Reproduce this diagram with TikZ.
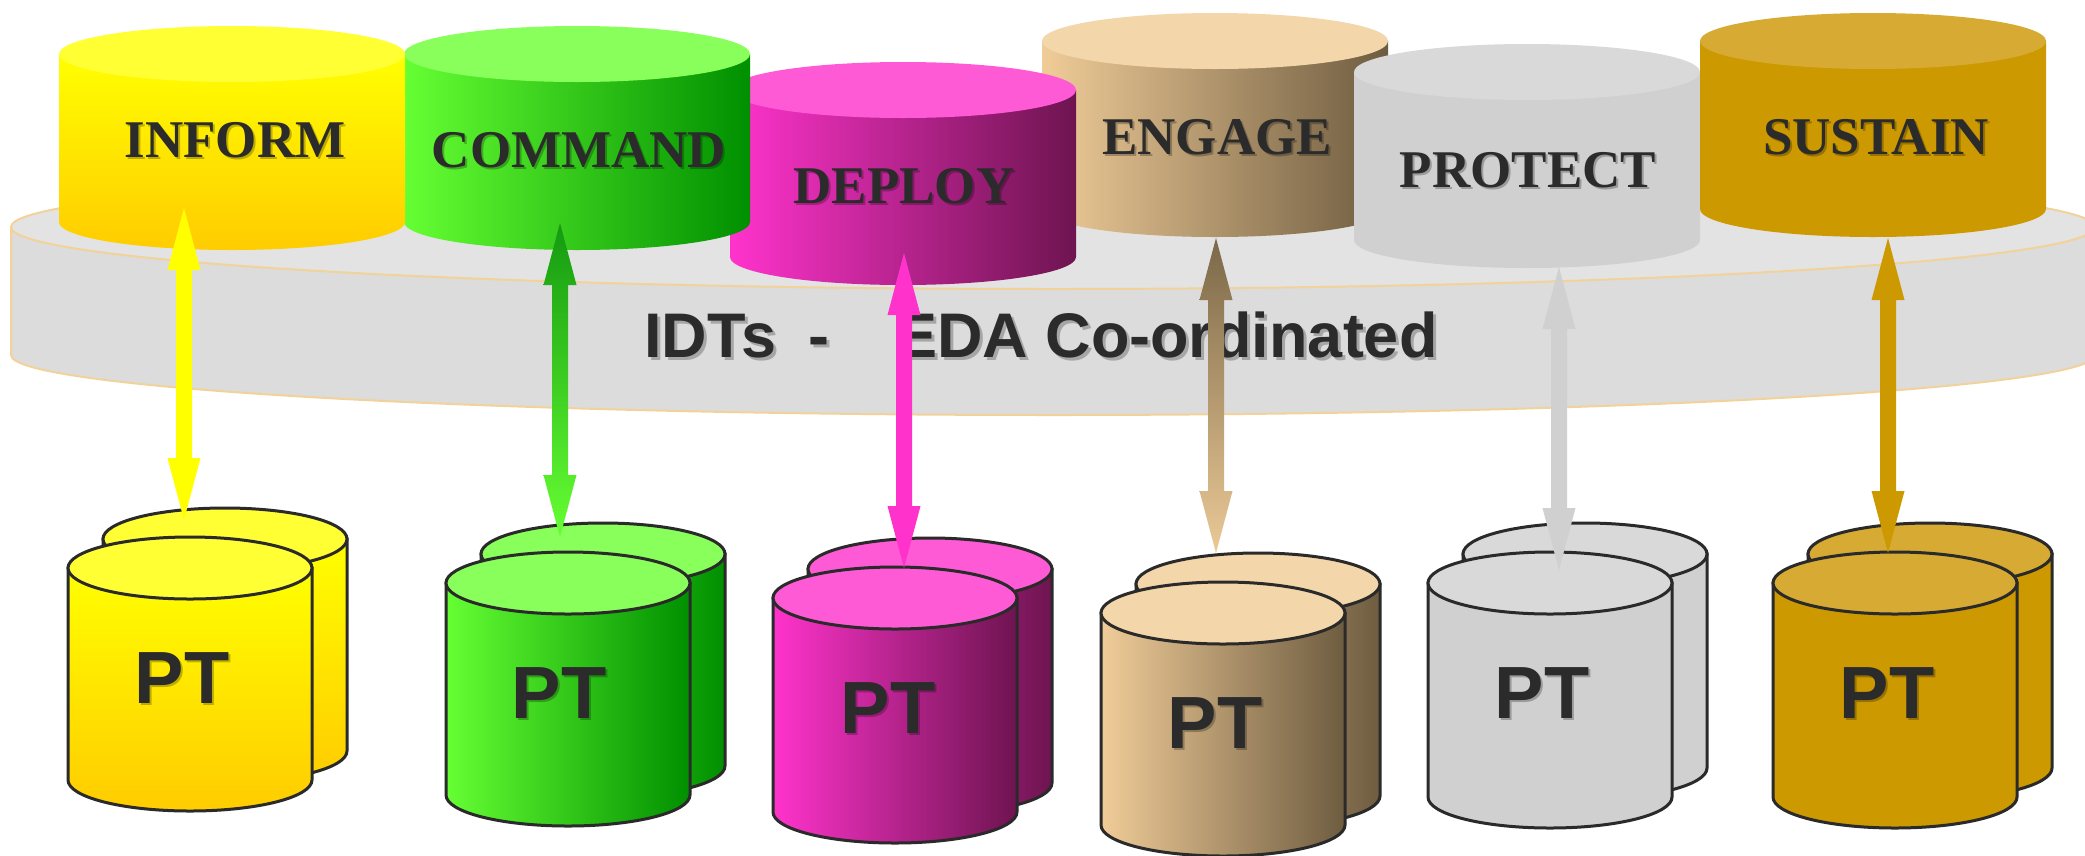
\documentclass[tikz,border=0pt]{standalone}
\usepackage{fontspec}
\setmainfont{Liberation Serif}
\newfontfamily\arialf{Liberation Sans}
\usetikzlibrary{calc}
\definecolor{txt}{HTML}{2B2B2B}
\definecolor{outl}{HTML}{2A2A2A}
\definecolor{platside}{HTML}{DCDCDC}
\definecolor{plattop}{HTML}{E3E3E3}
\definecolor{platline}{HTML}{F2D29B}
\definecolor{yelA}{HTML}{FFFF00}
\definecolor{yelB}{HTML}{FFCC00}
\definecolor{yelT}{HTML}{FFFF33}
\definecolor{grnA}{HTML}{66FF33}
\definecolor{grnB}{HTML}{008F00}
\definecolor{grnT}{HTML}{88FF5A}
\definecolor{grnD}{HTML}{149A10}
\definecolor{magA}{HTML}{FF33CC}
\definecolor{magB}{HTML}{6E1450}
\definecolor{magT}{HTML}{FF5AD6}
\definecolor{tanA}{HTML}{F0CC98}
\definecolor{tanB}{HTML}{6E5C40}
\definecolor{tanT}{HTML}{F3D7AA}
\definecolor{tanD}{HTML}{7B6848}
\definecolor{tanL}{HTML}{EBC996}
\definecolor{gryA}{HTML}{D0D0D0}
\definecolor{gryT}{HTML}{D9D9D9}
\definecolor{gldA}{HTML}{CC9900}
\definecolor{gldT}{HTML}{D6AA33}
\newcommand\topcyl[5]{%
  \path[#4] ({#1-173},#2) -- ({#1-173},#3) arc[start angle=180,end angle=360,x radius=173pt,y radius=28pt] -- ({#1+173},#2) -- cycle;
  \fill[#5] (#1,#2) ellipse[x radius=173pt,y radius=28pt];
}
\newcommand\ptone[5]{%
  \path[#4,draw=outl,line width=3pt] ({#1-122},#2) -- ({#1-122},#3) arc[start angle=180,end angle=360,x radius=122pt,y radius=31pt] -- ({#1+122},#2) -- cycle;
  \path[fill=#5,draw=outl,line width=3pt] (#1,#2) ellipse[x radius=122pt,y radius=31pt];
}
\newcommand\ptpair[5]{\ptone{#1+35}{#2-29}{#3-29}{#4}{#5}\ptone{#1}{#2}{#3}{#4}{#5}}
\newcommand\dblarrow[3]{%
  \path[#3] (#1) -- ($(#1)+(16.5,62)$) -- ($(#1)+(8,62)$) -- ($(#2)+(8,-62)$) -- ($(#2)+(16.5,-62)$) -- (#2)
    -- ($(#2)+(-16.5,-62)$) -- ($(#2)+(-8,-62)$) -- ($(#1)+(-8,62)$) -- ($(#1)+(-16.5,62)$) -- cycle;
}
\tikzset{
  toplabel/.style={font=\bfseries\fontsize{53}{53}\selectfont,text=txt,anchor=base,inner sep=0pt},
  topshadow/.style={toplabel,text=black,text opacity=0.25},
  ptlabel/.style={font=\arialf\bfseries\fontsize{74}{74}\selectfont,text=txt,anchor=base,inner sep=0pt},
  ptshadow/.style={ptlabel,text=black,text opacity=0.25},
  bigl/.style={font=\arialf\bfseries\fontsize{63}{63}\selectfont,text=txt,anchor=base west,inner sep=0pt},
  bigshadow/.style={bigl,text=black!35}
}
\begin{document}
\begin{tikzpicture}[x=1pt,y=-1pt]
\useasboundingbox (0,0) rectangle (2085,855);
\fill[white] (0,0) rectangle (2085,855);
% platform
\path[fill=platside,draw=platline,line width=2pt] (11,227) -- (11,355) arc[start angle=180,end angle=360,x radius=1042pt,y radius=60pt] -- (2095,227) -- cycle;
\path[fill=plattop,draw=platline,line width=2pt] (1053,227) ellipse[x radius=1042pt,y radius=62pt];
\node[bigshadow] (idtsh) at (647,360) {IDTs\hspace{32.5pt}-\hspace{65.5pt}EDA Co-ordinated};
\node[bigl] (idts) at (644,357) {IDTs\hspace{32.5pt}-\hspace{65.5pt}EDA Co-ordinated};
% top cylinders
\topcyl{1215}{41}{209}{left color=tanA,right color=tanB}{tanT}
\topcyl{903}{90}{257}{left color=magA,right color=magB}{magT}
\topcyl{577}{54}{222}{left color=grnA,right color=grnB}{grnT}
\topcyl{232}{54}{222}{top color=yelA,bottom color=yelB}{yelT}
\topcyl{1527}{72}{240}{fill=gryA}{gryT}
\topcyl{1873}{41}{209}{fill=gldA}{gldT}
% top labels
\node[topshadow] at (237,159) {INFORM};
\node[toplabel] (inform) at (235,157) {INFORM};
\node[topshadow] at (581,169) {COMMAND};
\node[toplabel] (command) at (579,167) {COMMAND};
\node[topshadow] at (906,205) {DEPLOY};
\node[toplabel] (deploy) at (904,203) {DEPLOY};
\node[topshadow] at (1219,156) {ENGAGE};
\node[toplabel] (engage) at (1217,154) {ENGAGE};
\node[topshadow] at (1530,189) {PROTECT};
\node[toplabel] (protect) at (1528,187) {PROTECT};
\node[topshadow] at (1878,156) {SUSTAIN};
\node[toplabel] (sustain) at (1876,154) {SUSTAIN};
% PT cylinders
\ptpair{190}{568}{780}{top color=yelA,bottom color=yelB}{yelT}
\ptpair{568}{583}{795}{left color=grnA,right color=grnB}{grnT}
\ptpair{895}{598}{812}{left color=magA,right color=magB}{magT}
\ptpair{1223}{613}{825}{left color=tanA,right color=tanB}{tanT}
\ptpair{1550}{583}{797}{fill=gryA}{gryT}
\ptpair{1895}{583}{797}{fill=gldA}{gldT}
\node[ptshadow] at (184,705) {PT};
\node[ptlabel] (pt1) at (182,703) {PT};
\node[ptshadow] at (561,720) {PT};
\node[ptlabel] (pt2) at (559,718) {PT};
\node[ptshadow] at (890,735) {PT};
\node[ptlabel] (pt3) at (888,733) {PT};
\node[ptshadow] at (1217,750) {PT};
\node[ptlabel] (pt4) at (1215,748) {PT};
\node[ptshadow] at (1544,720) {PT};
\node[ptlabel] (pt5) at (1542,718) {PT};
\node[ptshadow] at (1889,720) {PT};
\node[ptlabel] (pt6) at (1887,718) {PT};
% arrows
\coordinate (a1) at (184,208); \coordinate (b1) at (184,520);
\coordinate (a2) at (560,223); \coordinate (b2) at (560,537);
\coordinate (a3) at (904,253); \coordinate (b3) at (904,568);
\coordinate (a4) at (1216,238); \coordinate (b4) at (1216,553);
\coordinate (a5) at (1559,267); \coordinate (b5) at (1559,570);
\coordinate (a6) at (1888,238); \coordinate (b6) at (1888,553);
\dblarrow{a1}{b1}{fill=yelA}
\dblarrow{a2}{b2}{top color=grnD,bottom color=grnA}
\dblarrow{a3}{b3}{fill=magA}
\dblarrow{a4}{b4}{top color=tanD,bottom color=tanL}
\dblarrow{a5}{b5}{fill=gryA}
\dblarrow{a6}{b6}{fill=gldA}
\end{tikzpicture}
\end{document}
